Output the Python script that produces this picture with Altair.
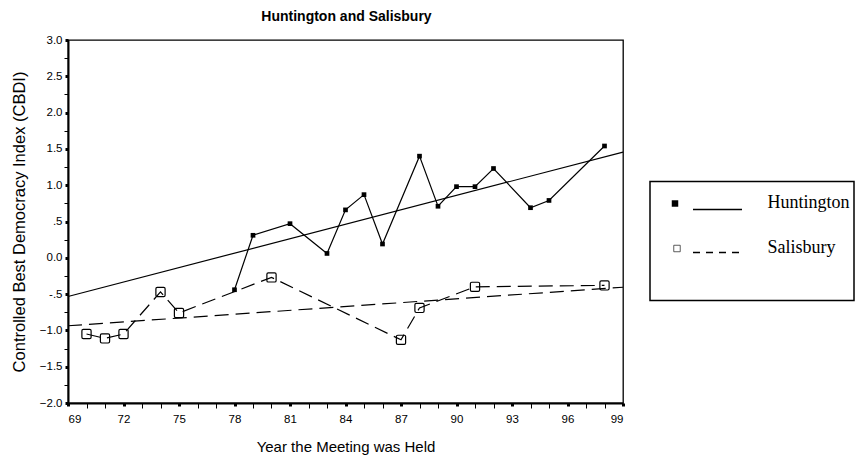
import altair as alt
import pandas as pd

# ---- data ----
hunt_years = [78, 79, 81, 83, 84, 85, 86, 88, 89, 90, 91, 92, 94, 95, 98]
hunt_vals = [-0.44, 0.31, 0.47, 0.06, 0.66, 0.87, 0.19, 1.40, 0.71, 0.98, 0.98, 1.23, 0.69, 0.79, 1.54]
sal_years = [70, 71, 72, 74, 75, 80, 87, 88, 91, 98]
sal_vals = [-1.05, -1.11, -1.05, -0.47, -0.76, -0.27, -1.13, -0.69, -0.40, -0.38]
x_ticks = list(range(69, 100))
y_ticks = [v / 4 for v in range(-8, 13)]
legend_names = ["Huntington", "Salisbury"]
chart_title = ["Huntington and Salisbury"]

hunt = pd.DataFrame({"year": hunt_years, "cbdi": hunt_vals})
sal = pd.DataFrame({"year": sal_years, "cbdi": sal_vals})

FONT = "Liberation Sans"
W, H = 555, 363

x_scale = alt.Scale(domain=[69, 99], nice=False, zero=False)
y_scale = alt.Scale(domain=[-2, 3], nice=False, zero=False)

x_axis = alt.Axis(
    title="Year the Meeting was Held",
    values=x_ticks,
    labelExpr="datum.value % 3 == 0 ? datum.value : ''",
    grid=False,
    domainColor="black", domainWidth=2,
    tickColor="black",
    tickSize={"condition": {"test": "datum.value % 3 == 0", "value": 3}, "value": 5},
    tickWidth={"condition": {"test": "datum.value % 3 == 0", "value": 3}, "value": 1},
    labelFont=FONT, labelFontSize=11.5, labelColor="black", labelPadding=7,
    titleFont=FONT, titleFontSize=15, titleFontWeight="normal", titleColor="black",
    titlePadding=15,
)
y_axis = alt.Axis(
    title="Controlled Best Democracy Index (CBDI)",
    values=y_ticks,
    labelExpr="abs(datum.value*2 - round(datum.value*2)) > 0.01 ? '' : "
              "(datum.value == 0.5 ? '.5' : (datum.value == -0.5 ? '-.5' : format(datum.value, '.1f')))",
    grid=False,
    domainColor="black", domainWidth=2,
    tickColor="black",
    tickSize={"condition": {"test": "abs(datum.value*2 - round(datum.value*2)) < 0.01", "value": 3}, "value": 4},
    tickWidth={"condition": {"test": "abs(datum.value*2 - round(datum.value*2)) < 0.01", "value": 3}, "value": 1},
    labelFont=FONT, labelFontSize=11.5, labelColor="black", labelPadding=3,
    titleFont=FONT, titleFontSize=16.5, titleFontWeight="normal", titleColor="black",
    titlePadding=12,
)

enc_x = alt.X("year:Q", scale=x_scale, axis=x_axis)
enc_y = alt.Y("cbdi:Q", scale=y_scale, axis=y_axis)

DASH = [14, 7]
rounded_sq = ("M -0.7 -1 L 0.7 -1 Q 1 -1 1 -0.7 L 1 0.7 Q 1 1 0.7 1 L -0.7 1 "
              "Q -1 1 -1 0.7 L -1 -0.7 Q -1 -1 -0.7 -1 Z")

hunt_line = alt.Chart(hunt).mark_line(color="black", strokeWidth=1.2).encode(x=enc_x, y=enc_y)
hunt_pts = alt.Chart(hunt).mark_point(shape="square", filled=True, color="black", size=22, opacity=1).encode(x=enc_x, y=enc_y)
hunt_reg = alt.Chart(hunt).transform_regression("year", "cbdi", extent=[69, 99]).mark_line(
    color="black", strokeWidth=1.2).encode(x=enc_x, y=enc_y)

sal_line = alt.Chart(sal).mark_line(color="black", strokeWidth=1.2, strokeDash=DASH).encode(x=enc_x, y=enc_y)
sal_pts = alt.Chart(sal).mark_point(shape=rounded_sq, filled=False, color="black", size=85,
                                    strokeWidth=1.2, opacity=1).encode(x=enc_x, y=enc_y)
sal_reg = alt.Chart(sal).transform_regression("year", "cbdi", extent=[69, 99]).mark_line(
    color="black", strokeWidth=1.2, strokeDash=DASH).encode(x=enc_x, y=enc_y)

# ---- chart title as a text mark above the plot ----
title_mark = alt.Chart(pd.DataFrame({"t": chart_title})).mark_text(
    align="center", baseline="alphabetic", font=FONT, fontSize=14, fontWeight="bold", color="black"
).encode(x=alt.value(W / 2 + 1), y=alt.value(-19.5), text="t:N")

# ---- custom legend (decoration, positioned in pixels right of the plot) ----
leg = pd.DataFrame({"label": legend_names})
box = alt.Chart(leg.head(1)).mark_rect(filled=False, stroke="black", strokeWidth=1.5).encode(
    x=alt.value(582), x2=alt.value(786), y=alt.value(141.5), y2=alt.value(260.5))
h_sym = alt.Chart(leg.head(1)).mark_point(shape="square", filled=True, color="black", size=42, opacity=1).encode(
    x=alt.value(607), y=alt.value(163.5))
h_line = alt.Chart(leg.head(1)).mark_rule(color="black", strokeWidth=1.6).encode(
    x=alt.value(625), x2=alt.value(674), y=alt.value(169.5))
h_txt = alt.Chart(leg.head(1)).mark_text(align="left", baseline="alphabetic", font="Liberation Serif",
                                         fontSize=18, color="black").encode(
    x=alt.value(699.5), y=alt.value(167.5), text="label:N")
s_sym = alt.Chart(leg.tail(1)).mark_point(shape="square", filled=False, color="#333333", size=42,
                                          strokeWidth=0.8, opacity=1).encode(
    x=alt.value(609), y=alt.value(208.5))
s_line = alt.Chart(leg.tail(1)).mark_rule(color="black", strokeWidth=1.6, strokeDash=[7, 6]).encode(
    x=alt.value(625), x2=alt.value(674), y=alt.value(212.5))
s_txt = alt.Chart(leg.tail(1)).mark_text(align="left", baseline="alphabetic", font="Liberation Serif",
                                         fontSize=18, color="black").encode(
    x=alt.value(699.5), y=alt.value(212.5), text="label:N")

chart = alt.layer(
    hunt_reg, sal_reg, sal_line, hunt_line, sal_pts, hunt_pts, title_mark,
    box, h_sym, h_line, h_txt, s_sym, s_line, s_txt,
).properties(
    width=W, height=H,
    autosize=alt.AutoSizeParams(type="none"),
    padding={"left": 60, "top": 32, "right": 232, "bottom": 54},
    background="white",
).configure_view(
    stroke="black", strokeWidth=1.3
)

chart.save("out.html", embed_options={"renderer": "svg", "actions": False})
